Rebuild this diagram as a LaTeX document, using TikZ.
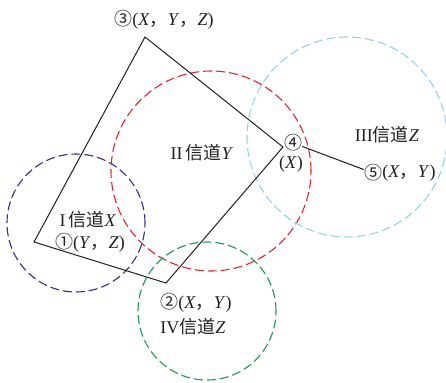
\documentclass[tikz,border=0pt]{standalone}
\usepackage{fontspec}
\setmainfont{Liberation Serif}
\newfontfamily\cjk{Noto Sans CJK SC}
\usetikzlibrary{positioning}
\definecolor{ChanNavy}{HTML}{2E3192}
\definecolor{ChanRed}{HTML}{E4252B}
\definecolor{ChanSky}{HTML}{8FD3F1}
\definecolor{ChanGreen}{HTML}{1D9A4C}
\definecolor{ChanInk}{HTML}{231F20}
\newcommand{\chsep}{{\cjk ，}}
\newcommand{\vX}{\textit{X}}
\newcommand{\vY}{\textit{Y}}
\newcommand{\vZ}{\textit{Z}}
\tikzset{
  zone/.style={line width=1.1pt,dash pattern=on 9pt off 4pt},
  route/.style={draw=ChanInk,line width=1pt},
  lbl/.style={text=ChanInk,inner sep=0pt,font=\fontsize{18}{20}\selectfont},
}
\begin{document}
\begin{tikzpicture}[x=1pt,y=-1pt]
\useasboundingbox (0,0) rectangle (446,382);
% coverage zones
\draw[zone,ChanNavy] (76,223) circle[radius=69pt];
\draw[zone,ChanRed] (211,171) circle[radius=100pt];
\draw[zone,ChanSky] (347,137) circle[radius=100pt];
\draw[zone,ChanGreen] (207,311) circle[radius=69pt];
% stations
\coordinate (v1) at (34,242);
\coordinate (v3) at (145,37);
\coordinate (v4) at (283,147);
\coordinate (v2) at (166,283);
\draw[route] (v1) -- (v3) -- (v4) -- (v2) -- cycle;
\node[lbl] (p3) at (164,20) {{\cjk ③}(\vX\chsep\vY\chsep\vZ)};
\node[lbl] (p4) at (293,143) {\cjk ④};
\node[lbl] (p4x) at (291,164) {(\vX)};
\node[lbl] (p5) at (373,173) {\cjk ⑤};
\node[lbl,right=0pt of p5] (p5x) {(\vX\chsep\vY)};
\draw[route] (p4) -- (p5);
\node[lbl] (p1) at (90,243) {{\cjk ①}(\vY\chsep\vZ)};
\node[lbl] (p2) at (196,303) {{\cjk ②}(\vX\chsep\vY)};
% channel labels
\node[lbl] (c1) at (88,220) {I\,{\cjk 信道}\vX};
\node[lbl] (c2) at (202,153) {II\,{\cjk 信道}\vY};
\node[lbl] (c3) at (387,135) {III{\cjk 信道}\vZ};
\node[lbl] (c4) at (193,327) {IV{\cjk 信道}\vZ};
\end{tikzpicture}
\end{document}
